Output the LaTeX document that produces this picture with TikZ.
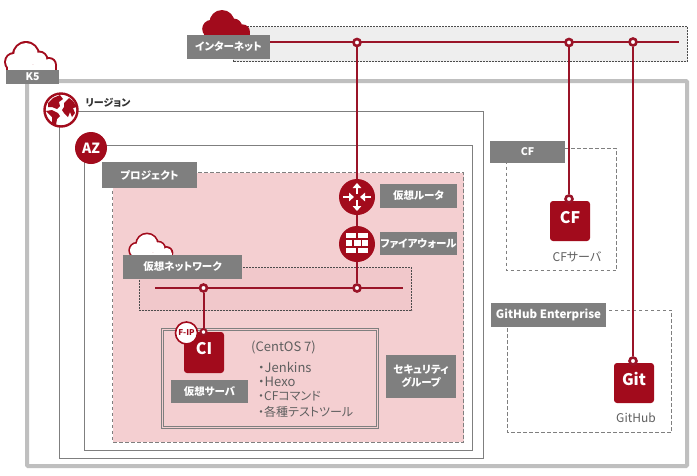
\documentclass[tikz,border=0pt]{standalone}
\usepackage{fontspec}
\setmainfont[RawFeature=+palt]{Noto Sans CJK JP}
\usetikzlibrary{arrows.meta}
\definecolor{kred}{HTML}{A20B1C}
\definecolor{kline}{HTML}{9A1428}
\definecolor{kgrey}{HTML}{7F7F7F}
\definecolor{kframe}{HTML}{BFBFBF}
\definecolor{kpink}{HTML}{F4CFD1}
\definecolor{kband}{HTML}{EEEEEE}
\definecolor{ktext}{HTML}{5F5F5F}
\tikzset{
  x=1pt,y=-1pt,
  tag/.style={fill=kgrey,text=white,font=\fontsize{10.5}{13}\selectfont\bfseries,inner sep=0pt,align=center},
  boxline/.style={draw=kgrey,line width=0.8pt},
  dashbox/.style={draw=kgrey,line width=0.7pt,dash pattern=on 3.5pt off 2.5pt},
  darkdash/.style={draw=black!70,line width=0.6pt,dash pattern=on 2pt off 1pt},
  wire/.style={draw=kline,line width=2pt},
  port/.style={circle,draw=kline,line width=2.6pt,fill=white,minimum size=7pt,inner sep=0pt},
  disc/.style={circle,fill=kred,minimum size=36pt,inner sep=0pt},
  server/.style={fill=kred,rounded corners=3pt,minimum size=40pt,inner sep=0pt},
  whitearrow/.style={draw=white,line width=2pt,-{Triangle[length=5pt,width=8.5pt]}},
  note/.style={text=ktext,font=\fontsize{12}{14}\selectfont,inner sep=0pt},
  listnote/.style={note,anchor=west,font=\fontsize{13}{15}\selectfont},
  listjp/.style={note,anchor=west,font=\fontsize{12}{15}\selectfont},
}
\newcommand{\kcloud}[5]{% x, y (bottom left), scale, outline, fill
  \begin{scope}[shift={(#1,#2)},scale=#3]
    \fill[#4] (8,-9) circle[radius=10];
    \fill[#4] (20,-16) circle[radius=14];
    \fill[#4] (33,-11) circle[radius=9.5];
    \fill[#4] (43,-6) circle[radius=8];
    \fill[#4] (0,-6) rectangle (51,0);
    \fill[#5] (8,-9) circle[radius=8];
    \fill[#5] (20,-16) circle[radius=12];
    \fill[#5] (33,-11) circle[radius=7.5];
    \fill[#5] (43,-6) circle[radius=6];
    \fill[#5] (2,-6) rectangle (49,0);
  \end{scope}}
\begin{document}
\begin{tikzpicture}
\useasboundingbox (0,0) rectangle (697,475);
\fill[white] (0,0) rectangle (697,475);
% Internet band
\draw[darkdash,fill=kband] (233,26.5) rectangle (687.5,61.5);
\kcloud{204}{37}{0.9}{kred}{kred}
% K5 frame
\draw[kframe,line width=4pt,rounded corners=1pt] (27,81) rectangle (687,466);
\kcloud{6}{71}{1}{kred}{white}
\node[tag,minimum width=53pt,minimum height=14pt] (k5) at (32.5,77) {K5};
% Region and AZ
\draw[boxline] (59.5,111.5) rectangle (483.5,458.5);
\draw[boxline] (84.5,145.5) rectangle (472.5,450.5);
% Project
\draw[dashbox,fill=kpink] (112.5,172.5) rectangle (463.5,442);
\node[tag,minimum width=95pt,minimum height=26pt] (project) at (149.5,175) {プロジェクト};
% Region icon
\node[circle,draw=kred,line width=2.4pt,fill=white,minimum size=33pt,inner sep=0pt] (region) at (61,110) {};
\begin{scope}[shift={(61,110)}]
  \fill[kred] (-13,-7) -- (-8,-12) -- (-1,-15) -- (2,-11) -- (-2,-8) -- (-1,-4) -- (-4,-1) -- (-9,-3) -- (-13,-3) -- cycle;
  \fill[kred] (-15,1) -- (-9,0) -- (-3,3) -- (-1,6) -- (-4,9) -- (-5,15) -- (-9,14) -- (-9,7) -- cycle;
  \fill[kred] (3,-7) -- (8,-12) -- (12,-9) -- (16,-3) -- (12,-2) -- (14,3) -- (11,7) -- (9,2) -- (7,7) -- (3,3) -- (1,0) -- (3,-3) -- cycle;
\end{scope}
\node[inner sep=0pt,font=\fontsize{10}{12}\selectfont\bfseries,text=black!80] (regionlabel) at (108,103) {リージョン};
\node[disc,minimum size=32pt,text=white,font=\fontsize{14}{16}\selectfont\bfseries] (az) at (91,148) {AZ};
% Private network
\kcloud{130}{258}{0.85}{kred}{white}
\draw[darkdash,fill=kred,fill opacity=0.03] (139.5,267.5) rectangle (411.5,310.5);
\node[tag,minimum width=119pt,minimum height=24pt] (vnet) at (182.5,267) {仮想ネットワーク};
\coordinate (vnetL) at (155,288);
\coordinate (vnetR) at (403,288);
\draw[wire] (vnetL) -- (vnetR);
% Internet wire
\node[tag,minimum width=83pt,minimum height=24pt] (inet) at (228.5,47) {インターネット};
\coordinate (inetL) at (270,42);
\coordinate (inetR) at (679,42);
\draw[wire] (inetL) -- (inetR);
% Router, firewall
\node[disc] (router) at (357,197) {};
\node[disc] (fw) at (357,244) {};
\node[port] (pinet) at (357,42.5) {};
\node[port] (pvr) at (357,288) {};
\draw[wire] (pinet) -- (router);
\draw[wire] (router) -- (fw);
\draw[wire] (fw) -- (pvr);
\begin{scope}[shift={(router.center)}]
  \draw[whitearrow] (0,-3) -- (0,-14);
  \draw[whitearrow] (0,3) -- (0,14);
  \draw[whitearrow] (-14,0) -- (-3,0);
  \draw[whitearrow] (14,0) -- (3,0);
\end{scope}
\begin{scope}[shift={(fw.center)}]
  \fill[white] (-11,-11) rectangle (-0.7,-6);
  \fill[white] (0.7,-11) rectangle (11,-6);
  \fill[white] (-11,-4) rectangle (-5,1.5);
  \fill[white] (-3.5,-4) rectangle (3.5,1.5);
  \fill[white] (5,-4) rectangle (11,1.5);
  \fill[white] (-11,3.5) rectangle (-0.7,9);
  \fill[white] (0.7,3.5) rectangle (11,9);
\end{scope}
\node[tag,minimum width=77pt,minimum height=24pt] (routerlabel) at (418.5,196) {仮想ルータ};
\node[tag,minimum width=77pt,minimum height=23pt] (fwlabel) at (418.5,243.5) {ファイアウォール};
% Security group / server
\draw[kgrey,line width=0.7pt] (161.5,328) rectangle (378.5,428);
\draw[kgrey,line width=0.7pt] (163.5,330) rectangle (376.5,426);
\node[server,minimum height=41pt,text=white,font=\fontsize{16}{18}\selectfont\bfseries] (ci) at (204,352.5) {\raisebox{8pt}{CI}};
\node[port,line width=2pt,minimum size=6pt] (pci) at (203.5,332) {};
\node[port] (pvn) at (203.5,288) {};
\draw[wire] (pvn) -- (pci);
\node[circle,draw=kred,line width=1.6pt,fill=white,minimum size=22pt,inner sep=0pt,text=kred,font=\fontsize{8}{9}\selectfont\bfseries] (fip) at (186.5,333) {F-IP};
\node[tag,minimum width=77pt,minimum height=23pt] (vsrv) at (209.5,391.5) {仮想サーバ};
\node[listnote] (os) at (251,347) {(CentOS 7)};
\node[listnote] (l1) at (258,367) {・Jenkins};
\node[listnote] (l2) at (258,382) {・Hexo};
\node[listjp] (l3) at (258,396.5) {・CFコマンド};
\node[listjp] (l4) at (258,412) {・各種テストツール};
\node[tag,minimum width=70pt,minimum height=43pt] (sg) at (421,376.5) {セキュリティ\\グループ};
% CF
\draw[dashbox] (506.5,148.5) rectangle (616.5,270.5);
\node[tag,minimum width=75pt,minimum height=22pt] (cftag) at (527.5,152) {CF};
\node[server,text=white,font=\fontsize{16}{18}\selectfont\bfseries] (cf) at (570,221) {\raisebox{8pt}{CF}};
\node[port] (pcfb) at (569,199) {};
\node[port] (pcft) at (569,42.5) {};
\draw[wire] (pcft) -- (pcfb);
\node[note] (cfs) at (577,257) {CFサーバ};
% GitHub
\draw[dashbox] (507,310) rectangle (671.5,432);
\node[tag,minimum width=115pt,minimum height=24pt,font=\fontsize{11.5}{13}\selectfont\bfseries] (ghe) at (548.5,315) {GitHub Enterprise};
\node[server,text=white,font=\fontsize{16}{18}\selectfont\bfseries] (git) at (634,383) {\raisebox{8pt}{Git}};
\node[port] (pgb) at (633,361) {};
\node[port] (pgt) at (633,42) {};
\draw[wire] (pgt) -- (pgb);
\node[note] (gh) at (636,418) {GitHub};
\end{tikzpicture}
\end{document}
